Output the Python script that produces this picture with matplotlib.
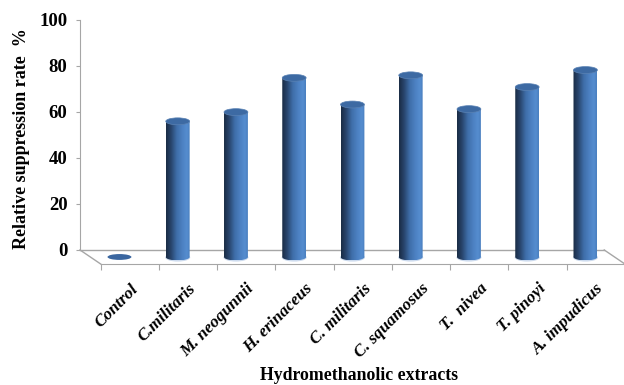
import numpy as np
import matplotlib
matplotlib.use("Agg")
import matplotlib.pyplot as plt
from matplotlib.patches import Ellipse, PathPatch
from matplotlib.path import Path
from matplotlib.colors import LinearSegmentedColormap

extracts = ["Control", "C.militaris", "M. neogunnii", "H. erinaceus", "C. militaris",
            "C. squamosus", "T.  nivea", "T. pinoyi", "A. impudicus"]
suppression = [0, 59.0, 63.0, 77.9, 66.3, 79.0, 64.3, 73.9, 81.3]
y_ticks = [0, 20, 40, 60, 80, 100]

plt.rcParams['font.family'] = ['Liberation Serif', 'DejaVu Serif']

# pseudo-3D floor: depth offset of the front edge (categories, value units)
depth_x, depth_y = 0.355, -6.1
bar_w, ell_h = 0.41, 3.0
base = depth_y / 2

cyl = LinearSegmentedColormap.from_list("cyl", [
    (0.0, "#1a2c44"), (0.2, "#27436a"), (0.45, "#3f6ea9"),
    (0.7, "#4d82c4"), (0.88, "#568dcf"), (1.0, "#4a7fbf")])
grad = np.linspace(0, 1, 200).reshape(1, -1)

fig = plt.figure(figsize=(6.24, 3.85), dpi=100)
ax = fig.add_axes([80 / 624, 121 / 385, 544.9 / 624, 248.6 / 385])

n = len(extracts)
for i, v in enumerate(suppression):
    cx = i + depth_x / 2
    if v <= 0:
        ax.add_patch(Ellipse((cx, base), bar_w, ell_h * 0.85, facecolor="#3a66a0",
                             edgecolor="none", zorder=3))
        continue
    top = v + base
    x0, x1 = cx - bar_w / 2, cx + bar_w / 2
    t = np.linspace(np.pi, 2 * np.pi, 40)
    arc = np.column_stack([cx + bar_w / 2 * np.cos(t), base + ell_h / 2 * np.sin(t)])
    verts = np.vstack([[[x0, top]], arc, [[x1, top]], [[x0, top]]])
    codes = [Path.MOVETO] + [Path.LINETO] * (len(verts) - 2) + [Path.CLOSEPOLY]
    body = PathPatch(Path(verts, codes), facecolor="none", edgecolor="none")
    ax.add_patch(body)
    # soft light rim under the base
    ax.add_patch(Ellipse((cx, base - 0.2), bar_w + 0.02, ell_h + 0.6, facecolor="#cddbee",
                         edgecolor="none", zorder=2))
    im = ax.imshow(grad, cmap=cyl, aspect="auto", interpolation="bilinear",
                   extent=[x0, x1, base - ell_h / 2, top], zorder=3)
    im.set_clip_path(body)
    ax.add_patch(Ellipse((cx, top), bar_w, ell_h, facecolor="#3d6aa3",
                         edgecolor="#5a82b4", linewidth=0.5, zorder=4))

# floor outline
grey = "#a6a6a6"
ax.plot([-0.5, n - 0.5], [0, 0], color=grey, lw=1, zorder=1, clip_on=False)
ax.plot([-0.5, -0.5 + depth_x], [0, depth_y], color=grey, lw=1, zorder=1, clip_on=False)
ax.plot([n - 0.5, n - 0.5 + depth_x], [0, depth_y], color=grey, lw=1, zorder=1, clip_on=False)

ax.set_xlim(-0.5, 8.72)
ax.set_ylim(depth_y, 102)

for s in ["top", "right"]:
    ax.spines[s].set_visible(False)
ax.spines["left"].set_bounds(0, 100)
ax.spines["bottom"].set_bounds(-0.5 + depth_x, n - 0.5 + depth_x)
ax.spines["left"].set_color(grey)
ax.spines["bottom"].set_color(grey)
ax.spines["bottom"].set_clip_on(False)

ax.set_yticks(y_ticks)
ax.set_yticklabels([str(t) for t in y_ticks], fontsize=13.5, fontweight="bold")
ax.tick_params(axis="y", direction="out", length=3, color=grey, pad=6)

ax.set_xticks(np.arange(n + 1) - 0.5 + depth_x)
ax.set_xticklabels([])
ax.tick_params(axis="x", which="major", direction="out", length=4.5, color=grey)
ax.set_xticks(np.arange(n) + depth_x, minor=True)
ax.set_xticklabels(extracts, minor=True, rotation=45, ha="right", va="top",
                   rotation_mode="anchor", fontsize=12.3, fontweight="bold", style="italic")
ax.tick_params(axis="x", which="minor", length=0, pad=12)

fig.text(22 / 624, 1 - 139 / 385, "Relative suppression rate  %", rotation=90,
         ha="center", va="center", fontsize=13, fontweight="bold")
fig.text(359 / 624, 1 - 375 / 385, "Hydromethanolic extracts",
         ha="center", va="center", fontsize=12.8, fontweight="bold")

fig.savefig("out.png", dpi=100)
